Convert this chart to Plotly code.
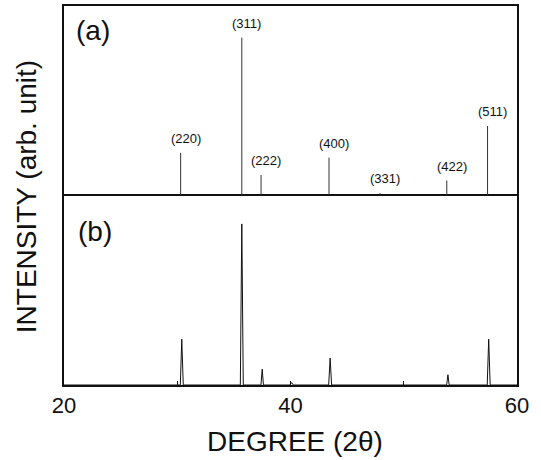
import plotly.graph_objects as go

# (a) reference stick pattern
hkl_labels = ["(220)", "(311)", "(222)", "(400)", "(331)", "(422)", "(511)"]
a_pos = [30.3, 35.7, 37.4, 43.4, 47.9, 53.8, 57.4]
a_int = [27, 100, 13, 24, 1.5, 9.5, 44]

# (b) measured pattern peaks
b_pos = [30.4, 35.7, 37.5, 40.1, 43.5, 53.9, 57.5]
b_int = [29, 102, 10, 1.5, 17, 6.5, 29]
b_halfwidth = [0.13, 0.13, 0.11, 0.15, 0.13, 0.11, 0.13]

x_ticks = [20, 30, 40, 50, 60]
x_ticktext = ["20", "", "40", "", "60"]

fig = go.Figure()

# sticks for (a)
sx, sy = [], []
for p, h in zip(a_pos, a_int):
    sx += [p, p, None]
    sy += [0, h, None]
fig.add_trace(go.Scatter(x=sx, y=sy, mode="lines", line=dict(color="#333", width=1),
                         xaxis="x2", yaxis="y2", showlegend=False, hoverinfo="skip"))

# pattern for (b)
bx, by = [20], [0]
for p, h, w in zip(b_pos, b_int, b_halfwidth):
    bx += [p - w, p, p + w]
    by += [0, h, 0]
bx.append(60)
by.append(0)
fig.add_trace(go.Scatter(x=bx, y=by, mode="lines", line=dict(color="#111", width=1),
                         xaxis="x", yaxis="y", showlegend=False, hoverinfo="skip"))

font = "Liberation Sans, Arial, sans-serif"

annotations = []
for lab, p, h in zip(hkl_labels, a_pos, a_int):
    annotations.append(dict(x=p, y=h, xref="x2", yref="y2", text=lab, showarrow=False,
                            yanchor="bottom", yshift=5, xshift=5,
                            font=dict(family=font, size=13, color="#111")))
annotations.append(dict(x=0.022, y=0.935, xref="paper", yref="paper", text="(a)", showarrow=False,
                        xanchor="left", yanchor="middle", font=dict(family=font, size=28, color="#111")))
annotations.append(dict(x=0.026, y=0.405, xref="paper", yref="paper", text="(b)", showarrow=False,
                        xanchor="left", yanchor="middle", font=dict(family=font, size=28, color="#111")))
annotations.append(dict(x=-0.084, y=0.498, xref="paper", yref="paper", text="INTENSITY (arb. unit)",
                        textangle=-90, showarrow=False, xanchor="center", yanchor="middle",
                        font=dict(family=font, size=28, color="#111")))
annotations.append(dict(x=0.51, y=-0.15, xref="paper", yref="paper", text="DEGREE (2θ)",
                        showarrow=False, xanchor="center", yanchor="middle",
                        font=dict(family=font, size=28, color="#111")))

axis_common = dict(showline=True, linecolor="#111", linewidth=1.5,
                   showgrid=False, zeroline=False)

fig.update_layout(
    width=541, height=460,
    margin=dict(l=64, r=24, t=6, b=75),
    paper_bgcolor="white", plot_bgcolor="white",
    xaxis=dict(domain=[0, 1], range=[20, 60], anchor="y", tickvals=x_ticks, ticktext=x_ticktext,
               ticks="inside", ticklen=4, tickcolor="#111", mirror=True,
               tickfont=dict(family=font, size=22, color="#111"), **axis_common),
    yaxis=dict(domain=[0, 0.5], range=[0, 120], showticklabels=False, ticks="", mirror=True, **axis_common),
    xaxis2=dict(domain=[0, 1], range=[20, 60], anchor="y2", side="top", mirror=False,
                showticklabels=False, ticks="", **axis_common),
    yaxis2=dict(domain=[0.5, 1], range=[0, 120], showticklabels=False, ticks="", mirror=True, **axis_common),
    annotations=annotations,
)

fig.write_html("out.html", config={"displayModeBar": False},
               post_script="document.body.style.margin='0';")
